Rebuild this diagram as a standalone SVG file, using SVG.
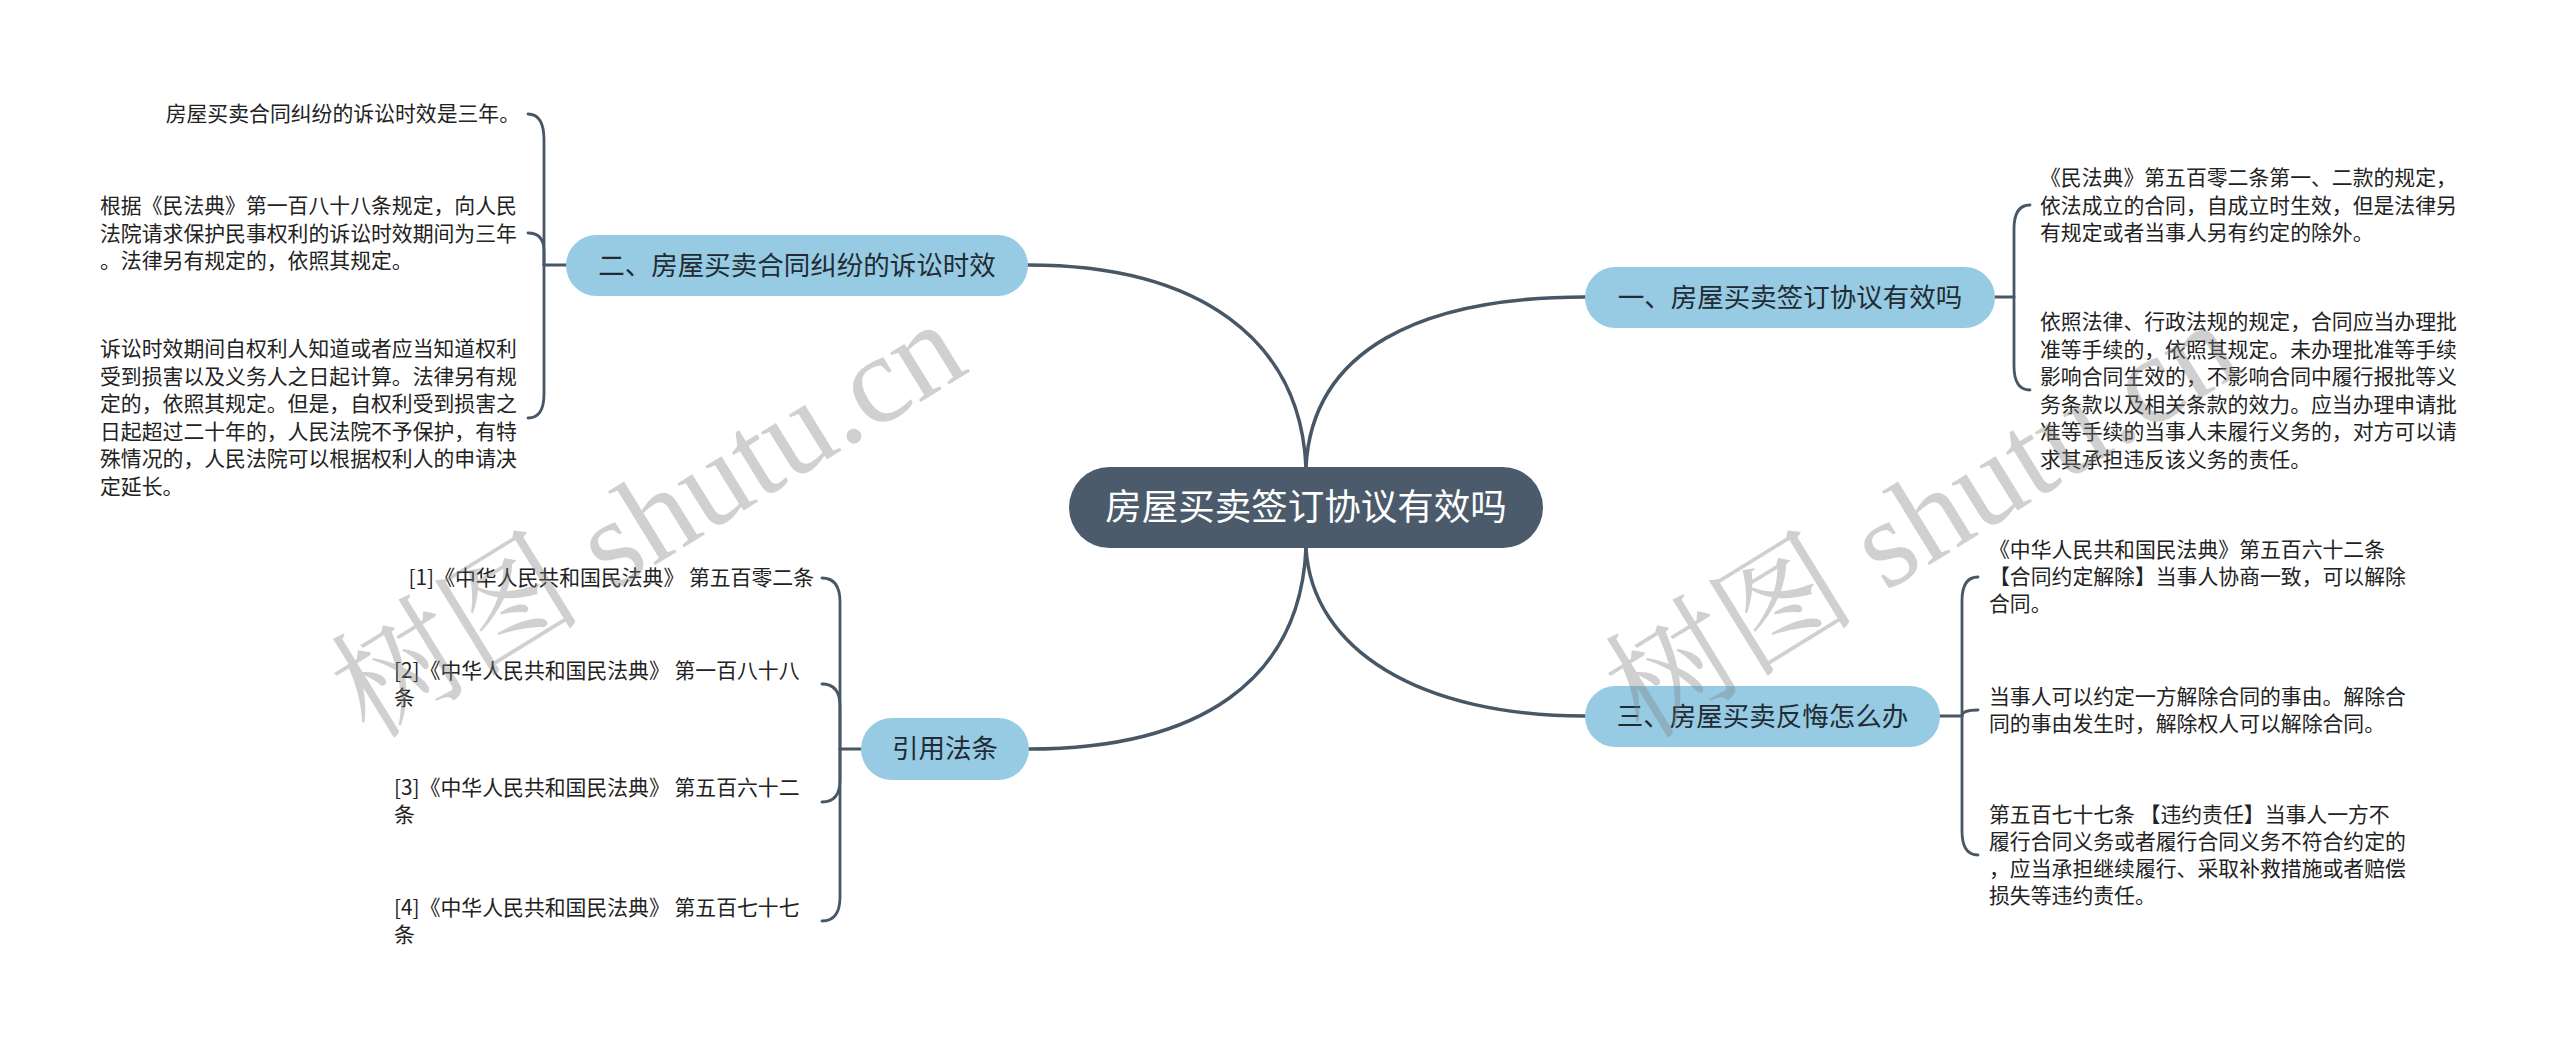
<svg xmlns="http://www.w3.org/2000/svg" width="2560" height="1048" viewBox="0 0 2560 1048">
<style>
.bg{fill:#ffffff}
.conn{fill:none;stroke:#475766;stroke-width:3.5;stroke-linecap:round}
.leafc{fill:none;stroke:#475766;stroke-width:2.8;stroke-linecap:round}
.root rect{fill:#4b5b6b}
.root text{fill:#ffffff;font-family:"Noto Sans CJK SC","Noto Sans",sans-serif;font-size:36.5px;text-anchor:middle}
.branch rect{fill:#96cbe3}
.branch text{fill:#222b33;font-family:"Noto Sans CJK SC","Noto Sans",sans-serif;font-size:26.5px;text-anchor:middle}
.leaf text{fill:#222222;font-family:"Noto Sans CJK SC","Noto Sans",sans-serif;font-size:20.85px}
.wm{fill:#808080;opacity:0.36;font-family:"Liberation Serif","Noto Serif CJK SC","Noto Sans CJK SC",serif;font-size:126px}
</style>
<rect class="bg" x="0" y="0" width="2560" height="1048"/>

<g id="connectors">
<path class="conn" d="M1306,467 C1300,340 1200,265 1028,265"/>
<path class="conn" d="M1306,467 C1312,350 1420,297 1585,297"/>
<path class="conn" d="M1306,548 C1300,680 1200,749 1029,749"/>
<path class="conn" d="M1306,548 C1312,650 1420,716 1585,716"/>
<path class="leafc" d="M566,265 H544"/>
<path class="leafc" d="M544,265 V140 Q544,114 528,114"/>
<path class="leafc" d="M544,265 V251 Q544,233 528,233"/>
<path class="leafc" d="M544,265 V394 Q544,418 528,418"/>
<path class="leafc" d="M1995,297 H2014"/>
<path class="leafc" d="M2014,297 V229 Q2014,205 2030,205"/>
<path class="leafc" d="M2014,297 V366 Q2014,390 2030,390"/>
<path class="leafc" d="M1940,716 H1962"/>
<path class="leafc" d="M1962,716 V601 Q1962,577 1978,577"/>
<path class="leafc" d="M1962,716 C1962,712 1966,710 1978,710"/>
<path class="leafc" d="M1962,716 V831 Q1962,855 1978,855"/>
<path class="leafc" d="M861,749 H840"/>
<path class="leafc" d="M840,749 V602 Q840,578 822,578"/>
<path class="leafc" d="M840,749 V706 Q840,684 822,684"/>
<path class="leafc" d="M840,749 V780 Q840,802 822,802"/>
<path class="leafc" d="M840,749 V897 Q840,921 822,921"/>
</g>

<g id="root" class="root">
<rect x="1069" y="467" width="474" height="81" rx="40.5"/>
<text x="1306" y="520">房屋买卖签订协议有效吗</text>
</g>

<g id="branch-1" class="branch">
<rect x="1585" y="267" width="410" height="61" rx="30.5"/>
<text x="1790" y="306.5">一、房屋买卖签订协议有效吗</text>
</g>
<g id="branch-2" class="branch">
<rect x="566" y="235" width="462" height="61" rx="30.5"/>
<text x="797" y="274.5">二、房屋买卖合同纠纷的诉讼时效</text>
</g>
<g id="branch-3" class="branch">
<rect x="1585" y="686" width="355" height="61" rx="30.5"/>
<text x="1762.5" y="725.5">三、房屋买卖反悔怎么办</text>
</g>
<g id="branch-4" class="branch">
<rect x="861" y="718" width="168" height="62" rx="31"/>
<text x="945" y="758">引用法条</text>
</g>

<g id="leaf-2-1" class="leaf">
<text x="520" y="121" text-anchor="end">房屋买卖合同纠纷的诉讼时效是三年。</text>
</g>
<g id="leaf-2-2" class="leaf">
<text x="100" y="213">根据《民法典》第一百八十八条规定，向人民</text>
<text x="100" y="240.5">法院请求保护民事权利的诉讼时效期间为三年</text>
<text x="100" y="268">。法律另有规定的，依照其规定。</text>
</g>
<g id="leaf-2-3" class="leaf">
<text x="100" y="356">诉讼时效期间自权利人知道或者应当知道权利</text>
<text x="100" y="383.6">受到损害以及义务人之日起计算。法律另有规</text>
<text x="100" y="411.2">定的，依照其规定。但是，自权利受到损害之</text>
<text x="100" y="438.8">日起超过二十年的，人民法院不予保护，有特</text>
<text x="100" y="466.4">殊情况的，人民法院可以根据权利人的申请决</text>
<text x="100" y="494">定延长。</text>
</g>

<g id="leaf-1-1" class="leaf">
<text x="2040" y="185">《民法典》第五百零二条第一、二款的规定，</text>
<text x="2040" y="212.5">依法成立的合同，自成立时生效，但是法律另</text>
<text x="2040" y="240">有规定或者当事人另有约定的除外。</text>
</g>
<g id="leaf-1-2" class="leaf">
<text x="2040" y="329">依照法律、行政法规的规定，合同应当办理批</text>
<text x="2040" y="356.5">准等手续的，依照其规定。未办理批准等手续</text>
<text x="2040" y="384">影响合同生效的，不影响合同中履行报批等义</text>
<text x="2040" y="411.5">务条款以及相关条款的效力。应当办理申请批</text>
<text x="2040" y="439">准等手续的当事人未履行义务的，对方可以请</text>
<text x="2040" y="466.5">求其承担违反该义务的责任。</text>
</g>

<g id="leaf-3-1" class="leaf">
<text x="1989" y="557">《中华人民共和国民法典》第五百六十二条</text>
<text x="1989" y="584">【合同约定解除】当事人协商一致，可以解除</text>
<text x="1989" y="611">合同。</text>
</g>
<g id="leaf-3-2" class="leaf">
<text x="1989" y="704">当事人可以约定一方解除合同的事由。解除合</text>
<text x="1989" y="731">同的事由发生时，解除权人可以解除合同。</text>
</g>
<g id="leaf-3-3" class="leaf">
<text x="1989" y="822">第五百七十七条 【违约责任】当事人一方不</text>
<text x="1989" y="849">履行合同义务或者履行合同义务不符合约定的</text>
<text x="1989" y="876">，应当承担继续履行、采取补救措施或者赔偿</text>
<text x="1989" y="903">损失等违约责任。</text>
</g>

<g id="leaf-4-1" class="leaf">
<text x="814" y="585" text-anchor="end">[1]《中华人民共和国民法典》 第五百零二条</text>
</g>
<g id="leaf-4-2" class="leaf">
<text x="394" y="678">[2]《中华人民共和国民法典》 第一百八十八</text>
<text x="394" y="705">条</text>
</g>
<g id="leaf-4-3" class="leaf">
<text x="394" y="795">[3]《中华人民共和国民法典》 第五百六十二</text>
<text x="394" y="822">条</text>
</g>
<g id="leaf-4-4" class="leaf">
<text x="394" y="915">[4]《中华人民共和国民法典》 第五百七十七</text>
<text x="394" y="942">条</text>
</g>

<g id="watermarks">
<text class="wm" x="648" y="562" text-anchor="middle" transform="rotate(-31.6 648 519)">树图 shutu.cn</text>
<text class="wm" x="1922" y="562" text-anchor="middle" transform="rotate(-31.6 1922 519)">树图 shutu.cn</text>
</g>
</svg>
